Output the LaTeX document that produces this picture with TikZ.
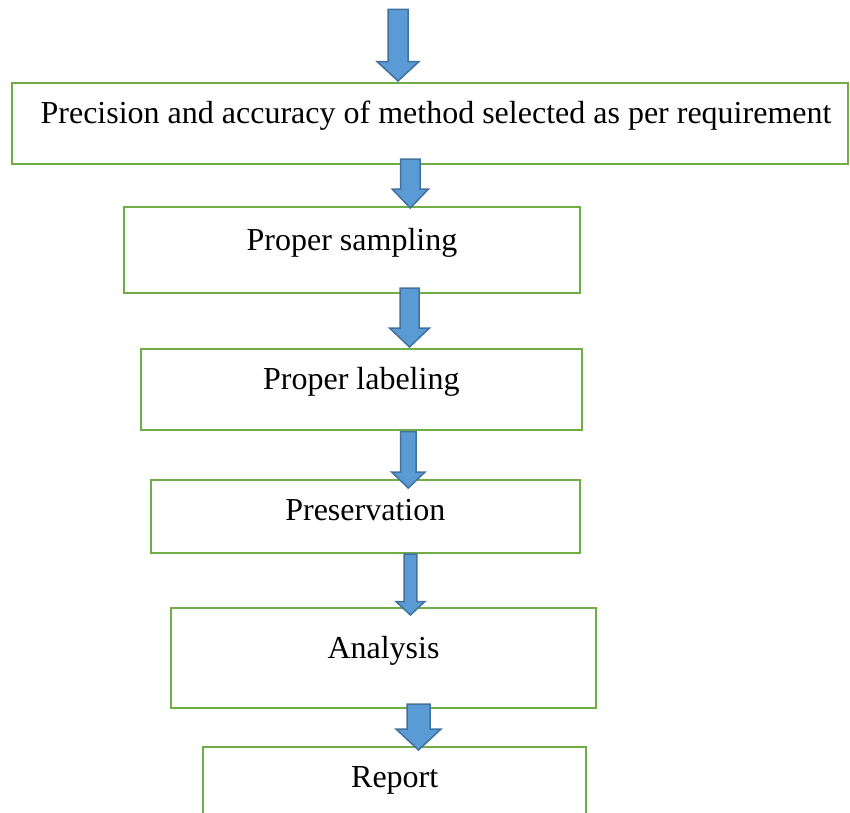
\documentclass[tikz,border=0pt]{standalone}
\usepackage{fontspec}
\setmainfont{Liberation Serif}
\usepackage{tikz}
\usetikzlibrary{calc, positioning}
\definecolor{boxgreen}{HTML}{70AD47}
\definecolor{arrfill}{HTML}{5B9BD5}
\definecolor{arrline}{HTML}{41719C}
\tikzstyle{box}=[draw=boxgreen, line width=2pt, rectangle, text height=12pt, text depth=12pt, font=\fontsize{32pt}{38pt}\selectfont]
\tikzstyle{blk}=[draw=arrline, fill=arrfill, line width=1.5pt, line join=miter]
\newcommand{\blockarrow}[5]{%
  \draw[blk] ($(#1)+(-#3,0)$) -- ($(#2)+(-#3,-#5)$) -- ($(#2)+(-#4,-#5)$) -- (#2)
    -- ($(#2)+(#4,-#5)$) -- ($(#2)+(#3,-#5)$) -- ($(#1)+(#3,0)$) -- cycle;}

\begin{document}
\begin{tikzpicture}[x=1pt, y=-1pt]
      \useasboundingbox (0,0) rectangle (850,812);
      \clip (0,0) rectangle (850,812);

      \node [box, minimum width=836pt, minimum height=81.5pt] (prec) at (430,123.25) {\hspace*{12pt}Precision and accuracy of method selected as per requirement};
      \node [box, minimum width=456pt, minimum height=86pt] (samp) [below of=prec, node distance=126.75pt, xshift=-78pt] {Proper sampling};
      \node [box, minimum width=441pt, minimum height=81pt] (lab) [below of=samp, node distance=139.5pt, xshift=9.3pt] {Proper labeling};
      \node [box, minimum width=428.5pt, minimum height=73pt, text height=15.5pt, text depth=8.5pt] (pres) [below of=lab, node distance=127pt, xshift=4pt] {Preservation};
      \node [box, minimum width=425pt, minimum height=100pt] (anal) [below of=pres, node distance=141.5pt, xshift=18.2pt] {Analysis};
      \node [box, minimum width=382.5pt, minimum height=80pt] (rep) [below of=anal, node distance=129pt, xshift=11.2pt] {Report};

      % arrow ends
      \coordinate (in) at (398,9.3);
      \coordinate (h1) at ($(prec.north)+(-32,-0.5)$);
      \coordinate (t2) at ($(prec.south)+(-19.7,-6)$);
      \coordinate (h2) at ($(samp.north)+(58.3,2)$);
      \coordinate (t3) at ($(samp.south)+(57.5,-6)$);
      \coordinate (h3) at ($(lab.north)+(48.2,-1)$);
      \coordinate (t4) at ($(lab.south)+(47,0.5)$);
      \coordinate (h4) at ($(pres.north)+(43,9)$);
      \coordinate (t5) at ($(pres.south)+(45.1,0)$);
      \coordinate (h5) at ($(anal.north)+(26.9,8)$);
      \coordinate (t6) at ($(anal.south)+(35,-5)$);
      \coordinate (h6) at ($(rep.north)+(23.8,4)$);

      \blockarrow{in}{h1}{10}{21}{19.5}
      \blockarrow{t2}{h2}{9.7}{18.2}{19}
      \blockarrow{t3}{h3}{9.5}{20}{19}
      \blockarrow{t4}{h4}{7.7}{16.7}{16}
      \blockarrow{t5}{h5}{6.4}{14.5}{13.5}
      \blockarrow{t6}{h6}{11.5}{22.5}{21}
  \end{tikzpicture}
\end{document}
